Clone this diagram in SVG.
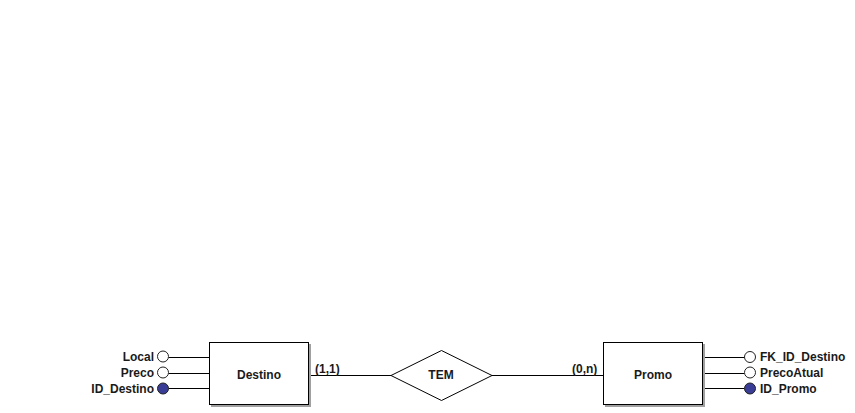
<svg xmlns="http://www.w3.org/2000/svg" width="855" height="413" viewBox="0 0 855 413">
<style>
.lbl{font-family:"Liberation Sans",Arial,sans-serif;font-weight:bold;font-size:12px;fill:#1a1a1a}
.ent{fill:#fff;stroke:#000;stroke-width:1}
.sh{fill:#a0a0a0}
.ln{stroke:#000;stroke-width:1;fill:none}
.att{fill:#fff;stroke:#222;stroke-width:1}
.key{fill:#3a3d96;stroke:#222;stroke-width:1}
</style>
<rect width="855" height="413" fill="#fff"/>
<g id="connectors">
<line class="ln" x1="309" y1="375.5" x2="391" y2="375.5"/>
<line class="ln" x1="492" y1="375.5" x2="603" y2="375.5"/>
<line class="ln" x1="168.5" y1="357.5" x2="209" y2="357.5"/>
<line class="ln" x1="168.5" y1="373.5" x2="209" y2="373.5"/>
<line class="ln" x1="168.5" y1="388.5" x2="209" y2="388.5"/>
<line class="ln" x1="703" y1="357.5" x2="744.5" y2="357.5"/>
<line class="ln" x1="703" y1="373.5" x2="744.5" y2="373.5"/>
<line class="ln" x1="703" y1="388.5" x2="744.5" y2="388.5"/>
<text class="lbl" x="315" y="373">(1,1)</text>
<text class="lbl" x="572" y="373">(0,n)</text>
</g>
<g id="destino">
<rect class="sh" x="211" y="344" width="100" height="63"/>
<rect class="ent" x="209.5" y="342.5" width="99" height="62"/>
<text class="lbl" x="259" y="379" text-anchor="middle">Destino</text>
</g>
<g id="promo">
<rect class="sh" x="605" y="344" width="100" height="63"/>
<rect class="ent" x="603.5" y="342.5" width="99" height="62"/>
<text class="lbl" x="653" y="379" text-anchor="middle">Promo</text>
</g>
<g id="tem">
<polygon points="391,375.5 441.5,350.5 492,375.5 441.5,400.5" fill="#fff" stroke="#000" stroke-width="1"/>
<text class="lbl" x="441" y="379" text-anchor="middle">TEM</text>
</g>
<g id="attr-local">
<circle class="att" cx="163" cy="356.5" r="5.5"/>
<text class="lbl" x="154" y="361" text-anchor="end">Local</text>
</g>
<g id="attr-preco">
<circle class="att" cx="163" cy="372.5" r="5.5"/>
<text class="lbl" x="154" y="377" text-anchor="end">Preco</text>
</g>
<g id="attr-id-destino">
<circle class="key" cx="163" cy="388.5" r="5.5"/>
<text class="lbl" x="154" y="393" text-anchor="end">ID_Destino</text>
</g>
<g id="attr-fk-id-destino">
<circle class="att" cx="750" cy="357" r="5.5"/>
<text class="lbl" x="760" y="361">FK_ID_Destino</text>
</g>
<g id="attr-precoatual">
<circle class="att" cx="750" cy="372.5" r="5.5"/>
<text class="lbl" x="760" y="377">PrecoAtual</text>
</g>
<g id="attr-id-promo">
<circle class="key" cx="750" cy="388.5" r="5.5"/>
<text class="lbl" x="760" y="393">ID_Promo</text>
</g>
</svg>
